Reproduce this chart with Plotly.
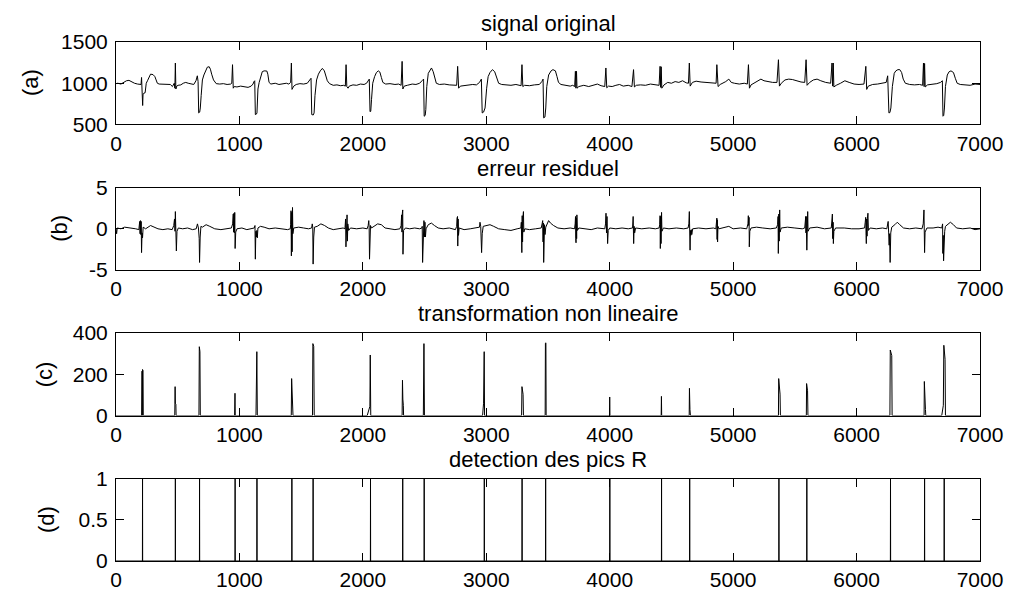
import plotly.graph_objects as go

# ---------------- data ----------------
# (a) signal original : polyline vertices (sample index, amplitude)
signal_pts = [
    (0, 995), (15, 1000), (40, 990), (65, 1010), (85, 1030), (105, 1035), (125, 1015), (150, 1000),
    (175, 990), (195, 980), (203, 985), (207, 1070), (210, 735), (216, 730), (219, 860), (226, 880),
    (236, 885), (245, 1000), (255, 1030), (265, 1060), (280, 1110), (300, 1105), (315, 1080), (325, 1040),
    (335, 1000), (350, 990), (380, 990), (410, 992), (440, 985), (457, 960), (465, 990), (472, 1000),
    (477, 940), (481, 1245), (485, 930), (492, 965), (503, 975), (525, 980), (545, 1000), (565, 1010),
    (585, 1000), (610, 990), (630, 985), (648, 1030), (659, 1090), (665, 1020), (670, 640), (678, 650),
    (683, 700), (690, 850), (700, 1040), (712, 1100), (725, 1150), (740, 1195), (755, 1200), (765, 1170),
    (775, 1110), (790, 1040), (812, 995), (840, 990), (870, 995), (900, 985), (930, 990), (938, 1000),
    (944, 1225), (950, 940), (958, 960), (980, 955), (1010, 965), (1040, 960), (1070, 950), (1095, 965),
    (1110, 990), (1118, 1020), (1124, 1030), (1129, 620), (1137, 625), (1142, 640), (1150, 930), (1160, 1010),
    (1172, 1090), (1185, 1140), (1200, 1150), (1222, 1148), (1230, 1110), (1240, 1010), (1255, 990), (1290, 1000),
    (1320, 985), (1350, 990), (1380, 1000), (1400, 990), (1415, 1010), (1421, 1245), (1426, 925), (1440, 965),
    (1460, 985), (1490, 995), (1520, 990), (1550, 1000), (1570, 1040), (1580, 1060), (1586, 620), (1598, 615),
    (1605, 640), (1612, 850), (1625, 1040), (1640, 1110), (1655, 1150), (1672, 1180), (1688, 1150), (1700, 1100),
    (1712, 1030), (1730, 995), (1760, 975), (1790, 980), (1820, 970), (1845, 975), (1858, 965), (1864, 1225),
    (1870, 960), (1880, 940), (1890, 965), (1920, 980), (1950, 975), (1980, 990), (2010, 985), (2030, 1000),
    (2043, 1030), (2052, 1050), (2058, 655), (2064, 660), (2070, 800), (2080, 1000), (2095, 1080), (2110, 1130),
    (2125, 1150), (2138, 1135), (2150, 1070), (2162, 1010), (2185, 990), (2220, 995), (2260, 985), (2290, 990),
    (2310, 975), (2318, 1265), (2324, 930), (2335, 965), (2360, 975), (2400, 990), (2430, 985), (2460, 1000),
    (2479, 1030), (2492, 1050), (2497, 600), (2505, 610), (2510, 680), (2518, 960), (2530, 1120), (2545, 1170),
    (2556, 1185), (2570, 1140), (2583, 1060), (2595, 1000), (2620, 985), (2660, 990), (2700, 980), (2735, 975),
    (2760, 975), (2768, 1205), (2776, 940), (2790, 965), (2820, 970), (2860, 975), (2890, 985), (2920, 980),
    (2945, 1010), (2960, 1050), (2967, 640), (2978, 650), (2990, 700), (3003, 940), (3015, 1080), (3030, 1130),
    (3050, 1165), (3068, 1140), (3085, 1060), (3100, 1000), (3125, 985), (3160, 980), (3200, 975), (3240, 985),
    (3270, 975), (3282, 970), (3289, 1225), (3296, 960), (3310, 975), (3350, 970), (3390, 980), (3430, 985),
    (3450, 1020), (3460, 1050), (3465, 580), (3475, 590), (3482, 700), (3490, 960), (3505, 1100), (3525, 1150),
    (3540, 1165), (3560, 1150), (3573, 1080), (3585, 1010), (3605, 985), (3640, 975), (3680, 965), (3700, 975),
    (3716, 960), (3722, 1145), (3726, 940), (3731, 1145), (3735, 940), (3750, 960), (3790, 975), (3830, 960),
    (3870, 975), (3900, 990), (3930, 970), (3960, 960), (3969, 1185), (3976, 945), (3990, 965), (4020, 960),
    (4050, 975), (4080, 985), (4110, 965), (4150, 975), (4180, 960), (4193, 1165), (4200, 955), (4215, 975),
    (4250, 980), (4290, 975), (4330, 990), (4370, 980), (4400, 975), (4408, 1205), (4413, 950), (4417, 1200),
    (4422, 940), (4440, 980), (4470, 1010), (4500, 1000), (4530, 1020), (4560, 1010), (4590, 1030), (4620, 1005),
    (4638, 1000), (4645, 1245), (4652, 965), (4670, 1010), (4700, 1025), (4740, 1015), (4780, 1010), (4820, 1000),
    (4850, 995), (4862, 1000), (4868, 1225), (4878, 960), (4895, 985), (4920, 1000), (4940, 1020), (4965, 1050),
    (4985, 1010), (5010, 1000), (5050, 990), (5090, 1000), (5115, 990), (5124, 1225), (5132, 940), (5145, 980),
    (5170, 1000), (5200, 1030), (5225, 1050), (5250, 1030), (5280, 1020), (5320, 1010), (5355, 1010), (5367, 1285),
    (5375, 965), (5390, 1000), (5420, 1040), (5450, 1050), (5480, 1045), (5510, 1030), (5550, 1015), (5580, 1010),
    (5591, 1285), (5599, 975), (5620, 1010), (5650, 1040), (5680, 1050), (5710, 1030), (5750, 1010), (5790, 1000),
    (5801, 1245), (5806, 965), (5811, 1245), (5816, 955), (5835, 975), (5870, 1000), (5905, 1030), (5940, 1010),
    (5980, 990), (6020, 985), (6060, 990), (6075, 1205), (6082, 925), (6095, 965), (6130, 985), (6170, 990),
    (6210, 1000), (6240, 1010), (6252, 1090), (6262, 640), (6270, 645), (6278, 700), (6290, 960), (6305, 1120),
    (6318, 1150), (6335, 1165), (6350, 1165), (6365, 1130), (6378, 1050), (6395, 1000), (6430, 985), (6470, 980),
    (6510, 985), (6535, 975), (6542, 1245), (6547, 960), (6551, 1240), (6556, 955), (6575, 980), (6610, 985),
    (6650, 995), (6680, 1010), (6695, 1030), (6700, 600), (6706, 610), (6712, 700), (6720, 960), (6735, 1100),
    (6750, 1140), (6765, 1150), (6785, 1130), (6800, 1060), (6815, 1000), (6840, 985), (6880, 980), (6920, 975),
    (6960, 990), (7000, 985),
]

# (b) erreur residuel : polyline vertices
residual_pts = [
    (0, 0.0), (5, -0.6), (10, 0.1), (40, 0.0), (70, 0.2), (100, 0.15), (130, 0.1), (160, 0.0), (185, -0.1),
    (192, 0.9), (195, -0.6), (198, 1.0), (201, -0.7), (204, 0.9), (207, -2.9), (211, -0.5), (215, -1.1),
    (220, 0.2), (240, 0.0), (280, 0.4), (310, 0.2), (340, 0.0), (380, -0.1), (420, 0.0), (455, -0.1),
    (468, 0.4), (474, 1.2), (478, -0.3), (481, 2.1), (484, -0.2), (487, 1.6), (489, -2.7), (494, -0.3),
    (505, 0.1), (540, 0.0), (580, 0.1), (620, -0.1), (650, 0.0),
    (660, 0.6), (668, 0.1), (674, -1.2), (677, -4.1), (682, -1.0), (688, 0.3), (700, 0.2), (730, 0.5),
    (760, 0.3), (800, 0.0), (850, -0.1), (900, 0.0), (935, 0.1),
    (945, 0.6), (950, 1.8), (953, -0.4), (956, 1.9), (959, -0.5), (962, 2.0), (965, -2.4), (970, -0.4),
    (980, 0.0), (1020, 0.1), (1060, -0.1), (1100, 0.0), (1120, 0.1),
    (1126, 0.4), (1129, -3.7), (1133, -0.3), (1137, -1.0), (1141, -0.2), (1145, -1.1), (1150, 0.1),
    (1170, 0.3), (1200, 0.2), (1240, 0.0), (1290, 0.1), (1340, 0.0), (1390, -0.1), (1412, 0.0),
    (1415, 0.5), (1418, 2.2), (1421, -3.3), (1424, 2.0), (1427, -2.8), (1430, 2.6), (1433, -0.6),
    (1440, 0.1), (1480, 0.2), (1520, 0.1), (1560, 0.0), (1585, 0.1),
    (1590, 0.6), (1594, 0.2), (1597, -4.3), (1602, -1.0), (1608, 0.2), (1630, 0.3), (1660, 0.6),
    (1690, 0.4), (1720, 0.1), (1760, -0.1), (1800, 0.0), (1840, 0.1), (1855, 0.0),
    (1860, 1.2), (1863, -2.2), (1866, 1.5), (1869, -1.8), (1872, 1.7), (1875, -1.5), (1878, 0.6),
    (1885, -0.2), (1900, 0.1), (1950, 0.0), (2000, 0.1), (2035, 0.0),
    (2043, 0.4), (2048, 1.0), (2051, 0.2), (2054, -3.7), (2058, -0.6), (2062, 0.4), (2070, 0.1),
    (2090, 0.3), (2120, 0.6), (2150, 0.5), (2180, 0.1), (2220, 0.0), (2260, -0.1), (2300, 0.0),
    (2310, 0.4), (2314, 1.7), (2317, -0.4), (2320, 1.9), (2323, 2.3), (2325, -3.1), (2330, -0.2),
    (2345, 0.1), (2380, 0.0), (2420, 0.1), (2460, 0.0), (2478, 0.1),
    (2481, 0.3), (2484, -4.1), (2490, -0.5), (2495, 1.0), (2499, -1.0), (2503, 0.8), (2507, -1.0),
    (2512, 0.0), (2530, 0.5), (2555, 0.7), (2580, 0.4), (2610, 0.1), (2650, 0.0), (2700, 0.1), (2750, -0.1),
    (2760, 0.3), (2763, 1.3), (2765, -1.0), (2767, 1.5), (2769, -2.1), (2772, 1.2), (2775, -0.8),
    (2780, 0.1), (2820, -0.1), (2870, 0.0), (2920, 0.1), (2945, 0.2),
    (2949, 0.8), (2955, 0.3), (2962, -2.9), (2967, -0.6), (2975, 0.3), (3000, 0.4), (3030, 0.5),
    (3060, 0.3), (3100, 0.0), (3150, -0.1), (3200, -0.2), (3250, 0.0), (3280, 0.1),
    (3284, 0.8), (3288, -2.9), (3291, 1.6), (3294, -1.6), (3297, 1.4), (3301, 2.1), (3304, -0.4),
    (3312, 0.0), (3350, -0.1), (3400, 0.0), (3445, 0.1),
    (3452, 0.6), (3457, 1.0), (3460, -1.6), (3463, 0.7), (3465, -4.1), (3469, -1.5), (3472, 0.5),
    (3476, -0.7), (3482, 0.2), (3495, 0.6), (3505, 1.0), (3520, 0.7), (3545, 0.4), (3580, 0.1),
    (3630, 0.0), (3680, 0.1), (3715, 0.0),
    (3720, 0.6), (3723, 1.5), (3725, -1.2), (3727, -1.7), (3730, 1.3), (3732, -1.2), (3734, 1.7),
    (3738, -0.2), (3750, 0.1), (3800, 0.0), (3850, -0.1), (3900, 0.1), (3960, 0.0),
    (3966, 0.6), (3970, 1.9), (3974, -0.5), (3978, 1.5), (3983, -1.8), (3988, -0.2), (4000, 0.1),
    (4050, 0.0), (4100, 0.1), (4150, 0.0), (4185, 0.1),
    (4190, 1.5), (4194, -1.8), (4198, 0.3), (4202, -0.5), (4210, 0.1), (4260, 0.0), (4320, 0.1),
    (4370, 0.0), (4400, 0.1),
    (4405, 0.5), (4408, 1.6), (4410, -2.4), (4413, 1.5), (4416, -1.8), (4420, 2.0), (4423, -0.3),
    (4435, 0.1), (4480, 0.0), (4540, 0.1), (4600, 0.0), (4635, 0.1),
    (4641, 0.6), (4645, 2.1), (4648, -0.5), (4651, -2.6), (4654, -0.2), (4657, -0.8), (4661, -0.1),
    (4665, -0.7), (4672, 0.0), (4720, 0.1), (4780, 0.0), (4840, 0.1), (4860, 0.0),
    (4865, 0.8), (4868, 1.3), (4870, -1.3), (4872, 1.1), (4874, -1.6), (4877, 0.3), (4885, 0.0),
    (4930, 0.2), (4965, 0.3), (5000, 0.0), (5060, 0.1), (5110, 0.0),
    (5120, 0.6), (5123, 1.6), (5126, 0.4), (5129, 1.4), (5131, -2.2), (5135, -0.3), (5145, 0.1),
    (5190, 0.2), (5240, 0.1), (5300, 0.0), (5350, 0.1),
    (5360, 0.5), (5364, 1.5), (5366, -3.0), (5370, 1.8), (5373, -1.5), (5377, 2.3), (5380, -0.4),
    (5390, 0.1), (5440, 0.2), (5500, 0.1), (5560, 0.0), (5580, 0.1),
    (5585, 0.6), (5588, 1.5), (5590, -0.5), (5592, 1.5), (5594, -0.4), (5597, -2.6), (5601, 0.5),
    (5604, 2.1), (5607, -0.3), (5620, 0.1), (5680, 0.2), (5740, 0.0), (5795, 0.1),
    (5801, 1.0), (5804, 1.8), (5807, -1.2), (5810, 0.8), (5812, -1.8), (5816, -0.3), (5830, 0.1),
    (5900, 0.1), (5960, 0.0), (6020, 0.0), (6065, 0.1),
    (6070, 0.8), (6074, 1.4), (6077, -0.8), (6079, -1.8), (6082, 1.2), (6085, -0.9), (6088, 1.3),
    (6092, 1.9), (6096, -0.2), (6110, 0.1), (6160, 0.0), (6210, 0.1), (6245, 0.0),
    (6252, 0.5), (6256, 0.9), (6260, -0.5), (6264, -2.0), (6267, -0.6), (6270, -3.0), (6272, -4.1),
    (6277, -0.5), (6285, 0.2), (6310, 0.5), (6330, 0.8), (6350, 0.5), (6380, 0.1), (6430, 0.0),
    (6480, 0.1), (6530, 0.0),
    (6540, 0.6), (6546, 2.3), (6549, -1.0), (6551, -2.9), (6555, -0.4), (6570, 0.1), (6620, 0.1),
    (6660, 0.2), (6690, 0.1),
    (6697, 0.6), (6699, -3.0), (6702, -0.8), (6705, -3.9), (6708, -1.0), (6711, -3.6), (6714, -0.3),
    (6720, 0.3), (6740, 0.6), (6760, 0.8), (6785, 0.5), (6810, 0.1), (6860, 0.0), (6920, 0.1),
    (6960, -0.1), (7000, 0.0),
]

# (c) transformation non lineaire : polyline vertices
transform_pts = [
    (0, 0), (208, 0), (211, 215), (213, 0), (215, 223), (219, 218), (221, 0),
    (476, 0), (479, 140), (481, 60), (485, 55), (487, 0),
    (672, 0), (675, 333), (680, 310), (683, 0),
    (961, 0), (964, 108), (966, 0),
    (1134, 0), (1137, 290), (1139, 0), (1141, 309), (1145, 0),
    (1420, 0), (1423, 179), (1427, 50), (1432, 45), (1434, 0),
    (1592, 0), (1595, 348), (1602, 335), (1606, 0),
    (2035, 0), (2057, 45), (2060, 293), (2064, 0),
    (2318, 0), (2321, 171), (2324, 80), (2328, 50), (2330, 0),
    (2490, 0), (2493, 107), (2495, 348), (2499, 0),
    (2970, 0), (2978, 60), (2980, 184), (2983, 309), (2986, 0),
    (3286, 0), (3289, 140), (3298, 103), (3301, 0),
    (3477, 0), (3479, 350), (3481, 0), (3483, 352), (3485, 0),
    (3998, 0), (4000, 90), (4002, 0),
    (4417, 0), (4419, 93), (4421, 0),
    (4644, 0), (4646, 132), (4650, 30), (4654, 0),
    (5367, 0), (5369, 179), (5380, 104), (5383, 0),
    (5593, 0), (5595, 155), (5603, 120), (5606, 0),
    (6270, 0), (6273, 317), (6285, 290), (6288, 0),
    (6547, 0), (6549, 165), (6552, 35), (6558, 30), (6561, 0),
    (6690, 0), (6703, 50), (6707, 340), (6717, 272), (6720, 0),
    (7000, 0),
]

# (d) detection des pics R : detected R-peak positions
r_peaks = [215, 481, 677, 965, 1142, 1425, 1597, 2062, 2323, 2497, 2984,
           3290, 3481, 4001, 4420, 4648, 5371, 5597, 6275, 6551, 6710]

titles = ["signal original", "erreur residuel", "transformation non lineaire", "detection des pics R"]
ylabels = ["(a)", "(b)", "(c)", "(d)"]
x_ticks = [0, 1000, 2000, 3000, 4000, 5000, 6000, 7000]
y_ticks = [[500, 1000, 1500], [-5, 0, 5], [0, 200, 400], [0, 0.5, 1]]
y_ticktext = [["500", "1000", "1500"], ["-5", "0", "5"], ["0", "200", "400"], ["0", "0.5", "1"]]
y_ranges = [[500, 1500], [-5, 5], [0, 400], [0, 1]]

# ---------------- build traces ----------------
sig_x = [p[0] for p in signal_pts]
sig_y = [p[1] for p in signal_pts]
res_x = [p[0] for p in residual_pts]
res_y = [p[1] for p in residual_pts]
tr_x = [p[0] for p in transform_pts]
tr_y = [p[1] for p in transform_pts]
det_x = [0]
det_y = [0]
for p in r_peaks:
    det_x += [p - 1, p, p + 1]
    det_y += [0, 1, 0]
det_x.append(7000)
det_y.append(0)

series = [(sig_x, sig_y), (res_x, res_y), (tr_x, tr_y), (det_x, det_y)]

FONT = "Liberation Sans, Arial, Helvetica, sans-serif"
TICK_FS = 21
TITLE_FS = 22
W, H = 1015, 603
ML, MR, MT, MB = 116, 31, 42, 28
plot_h = H - MT - MB
# panel top / bottom in pixels
panel_px = [(41.7, 126.7), (191.7, 276.0), (340.7, 425.7), (490.7, 575.0)]
label_px = [30, 60, 44, 47]

fig = go.Figure()
layout = dict(
    width=W, height=H,
    margin=dict(l=ML, r=MR, t=MT, b=MB, pad=0),
    paper_bgcolor="white", plot_bgcolor="white",
    showlegend=False,
    font=dict(family=FONT, size=TICK_FS, color="black"),
)
annotations = []
for i, (xs, ys) in enumerate(series):
    n = "" if i == 0 else str(i + 1)
    fig.add_trace(go.Scatter(x=xs, y=ys, mode="lines",
                             line=dict(color="black", width=1),
                             xaxis="x" + n, yaxis="y" + n, hoverinfo="skip"))
    top, bot = panel_px[i]
    d0 = (H - MB - bot) / plot_h
    d1 = (H - MB - top) / plot_h
    layout["xaxis" + n] = dict(
        domain=[0, 1], anchor="y" + n, range=[0, 7000],
        tickmode="array", tickvals=x_ticks, ticktext=[str(v) for v in x_ticks],
        ticks="inside", ticklen=8, tickwidth=1, tickcolor="black",
        showline=True, linecolor="black", linewidth=1, mirror="ticks",
        showgrid=False, zeroline=False, ticklabelstandoff=0,
        tickfont=dict(size=TICK_FS, family=FONT, color="black"),
    )
    layout["yaxis" + n] = dict(
        domain=[d0, min(d1, 1.0)], anchor="x" + n, range=y_ranges[i],
        tickmode="array", tickvals=y_ticks[i], ticktext=y_ticktext[i],
        ticks="inside", ticklen=8, tickwidth=1, tickcolor="black",
        showline=True, linecolor="black", linewidth=1, mirror="ticks",
        showgrid=False, zeroline=False, ticklabelstandoff=3,
        tickfont=dict(size=TICK_FS, family=FONT, color="black"),
    )
    annotations.append(dict(
        text=titles[i], xref="paper", yref="paper", x=0.5, y=min(d1, 1.0),
        xanchor="center", yanchor="middle", yshift=19, showarrow=False,
        font=dict(size=TITLE_FS, family=FONT, color="black"),
    ))
    annotations.append(dict(
        text=ylabels[i], xref="paper", yref="paper", x=0, y=(d0 + d1) / 2,
        xanchor="center", yanchor="middle", xshift=label_px[i] - ML, textangle=-90,
        showarrow=False, font=dict(size=22, family=FONT, color="black"),
    ))
layout["annotations"] = annotations
fig.update_layout(**layout)
fig.write_html("out.html",
               config={"displayModeBar": False},
               post_script="document.body.style.margin='0';document.body.style.overflow='hidden';")
